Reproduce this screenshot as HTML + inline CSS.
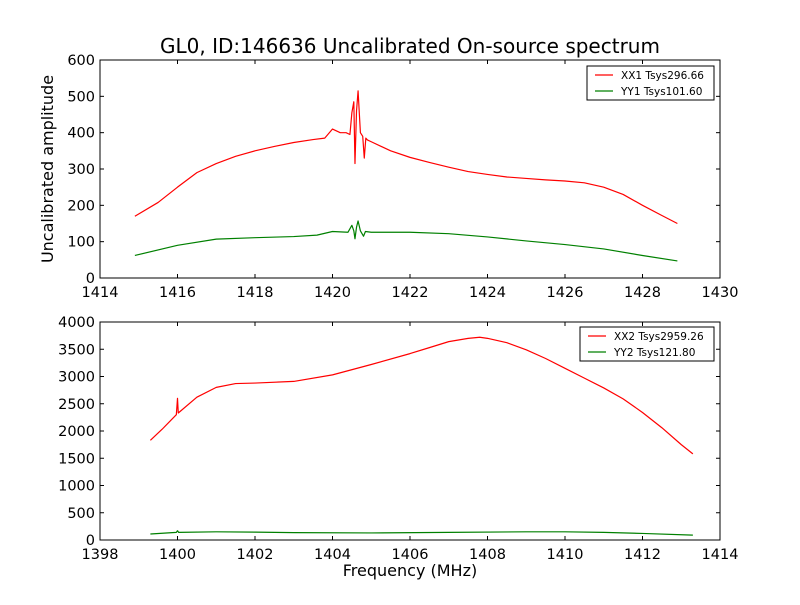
<!DOCTYPE html>
<html><head><meta charset="utf-8"><style>body{margin:0;background:#fff}svg{font-family:"DejaVu Sans","Liberation Sans",sans-serif}</style></head>
<body>
<svg id="c" width="800" height="600"></svg>
<script>
const f1=[1414.9,1415.5,1416,1416.5,1417,1417.5,1418,1418.5,1419,1419.5,1419.8,1420,1420.2,1420.35,1420.45,1420.5,1420.55,1420.58,1420.62,1420.66,1420.72,1420.78,1420.82,1420.86,1420.9,1421,1421.5,1422,1422.5,1423,1423.5,1424,1424.5,1425,1425.5,1426,1426.5,1427,1427.5,1428,1428.5,1428.9];
const xx1=[170,208,250,290,315,335,350,362,373,381,385,410,400,400,395,455,485,315,460,515,400,390,330,385,380,375,350,332,318,305,293,285,278,274,270,267,262,250,230,200,172,150];
const fy1=[1414.9,1416,1417,1418,1419,1419.6,1420,1420.4,1420.5,1420.55,1420.58,1420.62,1420.66,1420.72,1420.8,1420.85,1421,1422,1423,1424,1425,1426,1427,1428,1428.9];
const yy1=[62,90,107,111,114,118,128,126,145,130,108,140,157,130,115,128,126,126,122,113,102,92,80,62,47];
const f2=[1399.3,1399.6,1399.97,1400,1400.02,1400.5,1401,1401.5,1402,1403,1404,1405,1406,1406.5,1407,1407.5,1407.8,1408,1408.5,1409,1409.5,1410,1410.5,1411,1411.5,1412,1412.5,1413,1413.3];
const xx2=[1830,2030,2300,2600,2330,2620,2800,2870,2880,2910,3030,3220,3420,3530,3640,3700,3720,3700,3620,3490,3330,3150,2970,2790,2590,2340,2060,1750,1580];
const fy2=[1399.3,1399.97,1400,1400.03,1401,1402,1403,1405,1407,1409,1410,1411,1412,1413.3];
const yy2=[110,140,170,140,150,145,135,130,140,150,150,140,120,90];
const xt1=[1414,1416,1418,1420,1422,1424,1426,1428,1430];
const yt1=[0,100,200,300,400,500,600];
const xt2=[1398,1400,1402,1404,1406,1408,1410,1412,1414];
const yt2=[0,500,1000,1500,2000,2500,3000,3500,4000];
const NS='http://www.w3.org/2000/svg',svg=document.getElementById('c');
function el(t,a,txt){const e=document.createElementNS(NS,t);for(const k in a)e.setAttribute(k,a[k]);if(txt!==undefined)e.textContent=txt;svg.appendChild(e);return e;}
function panel(p,L,T,R,B,x0,x1,y0,y1,xt,yt,series,leg){
 const sx=v=>L+(v-x0)/(x1-x0)*(R-L), sy=v=>B-(v-y0)/(y1-y0)*(B-T);
 series.forEach(s=>{const l=el('polyline',{points:s.x.map((v,i)=>sx(v)+','+sy(s.y[i])).join(' '),fill:'none',stroke:s.c,'stroke-width':1.2,'stroke-linejoin':'round'});
 
 });
 const fr=el('rect',{x:L,y:T,width:R-L,height:B-T,fill:'none',stroke:'#000'});
 
 
 xt.forEach(v=>{const x=sx(v);el('line',{x1:x,x2:x,y1:B,y2:B-4,stroke:'#000'});el('line',{x1:x,x2:x,y1:T,y2:T+4,stroke:'#000'});
 const t=el('text',{x:x,y:B+19,'font-size':14.5,'text-anchor':'middle'},v);
 
 });
 yt.forEach(v=>{const y=sy(v);el('line',{x1:L,x2:L+4,y1:y,y2:y,stroke:'#000'});el('line',{x1:R,x2:R-4,y1:y,y2:y,stroke:'#000'});
 const t=el('text',{x:L-5,y:y+5,'font-size':14.5,'text-anchor':'end'},v);
 
 });
 const g=el('rect',{x:leg.x,y:leg.y,width:leg.w,height:34,fill:'#fff',stroke:'#000'});
 
 
 series.forEach((s,i)=>{const y=leg.y+9+i*16;el('line',{x1:leg.x+8,x2:leg.x+26,y1:y,y2:y,stroke:s.c,'stroke-width':1.2});
 const t=el('text',{x:leg.x+34,y:y+4,'font-size':10.5},s.label);
 
 });
}
panel('top',100,60,720,278,1414,1430,0,600,xt1,yt1,[{x:f1,y:xx1,c:'#f00',n:'xx1',label:'XX1 Tsys296.66'},{x:fy1,y:yy1,c:'#008000',n:'yy1',label:'YY1 Tsys101.60'}],{x:587,y:66,w:127});
panel('bottom',100,322,720,540,1398,1414,0,4000,xt2,yt2,[{x:f2,y:xx2,c:'#f00',n:'xx2',label:'XX2 Tsys2959.26'},{x:fy2,y:yy2,c:'#008000',n:'yy2',label:'YY2 Tsys121.80'}],{x:580,y:327,w:134});
let t=el('text',{x:410,y:53,'font-size':20,'text-anchor':'middle'},'GL0, ID:146636 Uncalibrated On-source spectrum');


t=el('text',{x:410,y:576,'font-size':16,'text-anchor':'middle'},'Frequency (MHz)');


t=el('text',{x:53,y:169,'font-size':16,'text-anchor':'middle',transform:'rotate(-90 53 169)'},'Uncalibrated amplitude');


</script>
</body></html>
